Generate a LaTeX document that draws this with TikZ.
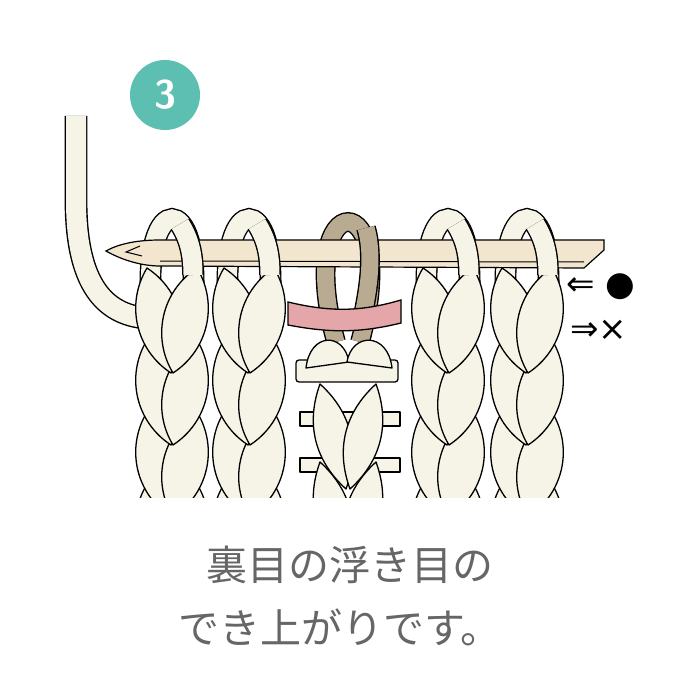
\documentclass[tikz,border=0pt]{standalone}
\usepackage{fontspec}
\newfontfamily\cjk{Noto Sans CJK JP}
\newfontfamily\djv{DejaVu Sans}
\definecolor{cream}{HTML}{F6F4E6}
\definecolor{teal}{HTML}{5CBFB1}
\definecolor{brownyarn}{HTML}{B9AB92}
\definecolor{pinkyarn}{HTML}{E4A6A8}
\definecolor{needle}{HTML}{F3E6CF}
\definecolor{txtgray}{HTML}{666666}
\tikzset{
 yarn/.style={draw=black,line width=1.4pt,double=cream,double distance=19pt},
 byarn/.style={draw=black,line width=1.4pt,double=brownyarn,double distance=17pt},
 leafst/.style={draw=black,line width=1.3pt,fill=cream,line join=round},
}
\newcommand{\myleaf}[4]{\path[leafst] (#1,#2) to[bend left=44] (#3,#4) to[bend left=44] (#1,#2) -- cycle;}
\newcommand{\thinleaf}[4]{\path[leafst] (#1,#2) to[bend left=34] (#3,#4) to[bend left=34] (#1,#2) -- cycle;}
\begin{document}
\begin{tikzpicture}[x=1pt,y=-1pt]
\useasboundingbox (0,0) rectangle (700,700);
\fill[white] (0,0) rectangle (700,700);
% badge
\node[circle,fill=teal,minimum size=70pt,inner sep=0pt,text=white,font=\sffamily\bfseries\fontsize{40}{40}\selectfont] (badge) at (165,95) {3};
% tail
\draw[yarn,double distance=20pt] (76,116) -- (76,200) .. controls (76,285) and (105,314) .. (145,318);
% loops on needle
\foreach \cx in {172,249,448,527}{
 \draw[yarn] (\cx-21,300) .. controls (\cx-28,192) and (\cx+28,192) .. (\cx+21,300);
}
% fabric
\begin{scope}
\clip (0,0) rectangle (700,497);
\path[leafst] (300,412) rectangle (400,426);
\path[leafst] (300,458) rectangle (400,472);
\foreach \yt in {462,384}{
 \thinleaf{320}{\yt}{346}{\yt+105}
 \thinleaf{376}{\yt}{350}{\yt+105}
}
\foreach \yt in {484,412,340,268}{
 \foreach \cx in {172,249,448,527}{
  \myleaf{\cx-25}{\yt}{\cx-1}{\yt+105}
  \myleaf{\cx+25}{\yt}{\cx+1}{\yt+105}
 }
}
\end{scope}
% brown slipped loop
\draw[byarn] (336,342) .. controls (292,182) and (404,182) .. (360,342);
% bar and bump
\path[leafst,rounded corners=3pt] (296,360) rectangle (398,382);
\path[leafst] (306,368) .. controls (310,332) and (344,332) .. (349,362) -- cycle;
\path[leafst] (347,362) .. controls (352,332) and (388,332) .. (392,368) -- cycle;
% needle
\path[draw=black,line width=1.2pt,fill=needle] (106,251) .. controls (120,243) and (140,240) .. (160,240) -- (604,240) -- (604,250) -- (584,268) -- (160,266) .. controls (140,266) and (120,259) .. (106,251) -- cycle;
\draw[line width=1pt] (160,261) -- (584,262);
\draw[line width=1pt] (140,246) -- (126,252) -- (142,256);
% front legs of loops
\foreach \cx in {172,249,448,527}{
 \draw[yarn] (\cx+8,224) .. controls (\cx+18,240) and (\cx+21,255) .. (\cx+21,275);
}
\draw[byarn] (366,228) .. controls (374,255) and (368,290) .. (364,310);
% pink band
\path[draw=black,line width=1.3pt,fill=pinkyarn] (288,302) .. controls (330,312) and (360,312) .. (401,300) -- (401,323) .. controls (360,333) and (330,333) .. (288,325) -- cycle;
% labels
\node[font=\djv\fontsize{34}{34}\selectfont,anchor=west,inner sep=0pt] (l1) at (566,287) {⇐ ●};
\node[font=\djv\fontsize{34}{34}\selectfont,anchor=west,inner sep=0pt] (l2) at (570,330) {⇒×};
% caption
\node[font=\cjk\fontsize{41}{41}\selectfont,text=txtgray] (t1) at (350,565) {裏目の浮き目の};
\node[font=\cjk\fontsize{41}{41}\selectfont,text=txtgray] (t2) at (340,627) {でき上がりです。};
\end{tikzpicture}
\end{document}
